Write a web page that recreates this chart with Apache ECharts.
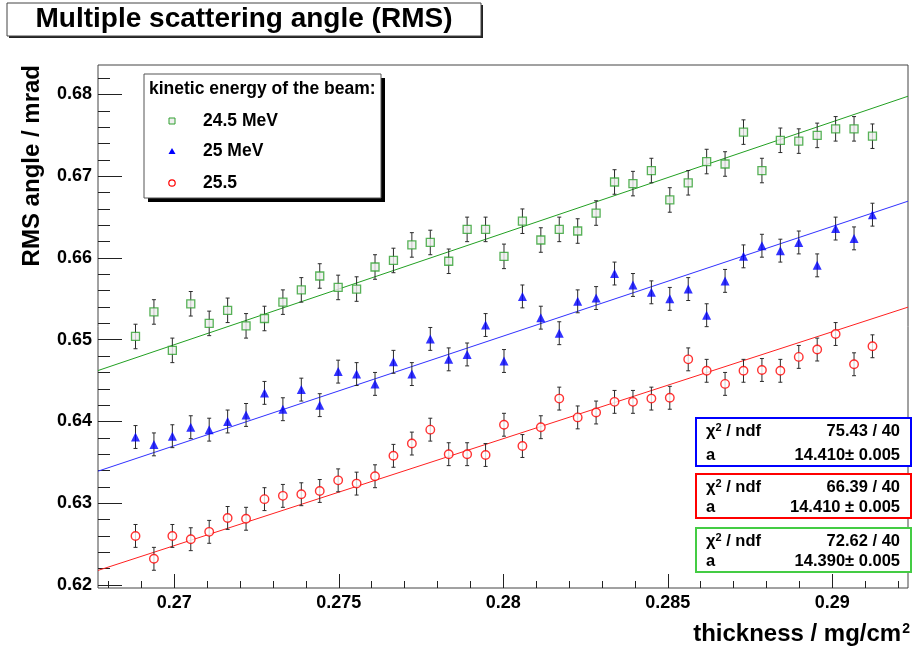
<!DOCTYPE html>
<html>
<head>
<meta charset="utf-8">
<script src="https://cdn.jsdelivr.net/npm/echarts@6/dist/echarts.min.js"></script>
<style>
  html, body { margin: 0; padding: 0; background: #fff; }
  #chart { width: 913px; height: 650px; }
</style>
</head>
<body>
<div id="chart"></div>
<script>
// thickness values (mg/cm2)
var thickness = [0.26882, 0.26938, 0.26994, 0.27050, 0.27106, 0.27162, 0.27218, 0.27274, 0.27330, 0.27386,
  0.27442, 0.27498, 0.27554, 0.27610, 0.27666, 0.27722, 0.27778, 0.27834, 0.27890, 0.27946,
  0.28002, 0.28058, 0.28114, 0.28170, 0.28226, 0.28282, 0.28338, 0.28394, 0.28450, 0.28506,
  0.28562, 0.28618, 0.28674, 0.28730, 0.28786, 0.28842, 0.28898, 0.28954, 0.29010, 0.29066, 0.29122];

// RMS angle (mrad) per beam energy
var rms245 = [0.6504, 0.6534, 0.6487, 0.6544, 0.6520, 0.6536, 0.6517, 0.6526, 0.6546, 0.6561,
  0.6578, 0.6564, 0.6562, 0.6589, 0.6597, 0.6616, 0.6619, 0.6596, 0.6635, 0.6635,
  0.6602, 0.6645, 0.6622, 0.6635, 0.6633, 0.6655, 0.6693, 0.6691, 0.6707, 0.6671,
  0.6692, 0.6718, 0.6715, 0.6754, 0.6707, 0.6744, 0.6743, 0.6750, 0.6758, 0.6758, 0.6749];
var rms250 = [0.6381, 0.6372, 0.6382, 0.6393, 0.6390, 0.6400, 0.6408, 0.6435, 0.6415, 0.6439,
  0.6420, 0.6461, 0.6458, 0.6446, 0.6473, 0.6458, 0.6501, 0.6476, 0.6482, 0.6518,
  0.6474, 0.6553, 0.6527, 0.6508, 0.6547, 0.6551, 0.6581, 0.6567, 0.6558, 0.6550,
  0.6562, 0.6530, 0.6572, 0.6602, 0.6615, 0.6609, 0.6619, 0.6591, 0.6636, 0.6624, 0.6653];
var rms255 = [0.6260, 0.6232, 0.6260, 0.6256, 0.6265, 0.6282, 0.6281, 0.6305, 0.6309, 0.6311,
  0.6315, 0.6328, 0.6324, 0.6333, 0.6358, 0.6373, 0.6390, 0.6360, 0.6360, 0.6359,
  0.6396, 0.6370, 0.6393, 0.6428, 0.6405, 0.6411, 0.6424, 0.6424, 0.6428, 0.6429,
  0.6476, 0.6462, 0.6446, 0.6462, 0.6463, 0.6462, 0.6479, 0.6488, 0.6507, 0.6470, 0.6492];
var err245 = 0.0015, err250 = 0.0014, err255 = 0.0014;

// fitted lines, end points at the frame edges
var fitX = [0.26768, 0.29230];
var fit245 = [0.64623, 0.67979];
var fit250 = [0.63392, 0.66695];
var fit255 = [0.62178, 0.65399];

var xMajor = [0.27, 0.275, 0.28, 0.285, 0.29];
var xMinor = [0.268, 0.269, 0.270, 0.271, 0.272, 0.273, 0.274, 0.275, 0.276, 0.277, 0.278, 0.279, 0.280,
  0.281, 0.282, 0.283, 0.284, 0.285, 0.286, 0.287, 0.288, 0.289, 0.290, 0.291, 0.292];
var yMajor = [0.62, 0.63, 0.64, 0.65, 0.66, 0.67, 0.68];
var yMinor = [0.620, 0.622, 0.624, 0.626, 0.628, 0.630, 0.632, 0.634, 0.636, 0.638, 0.640, 0.642, 0.644,
  0.646, 0.648, 0.650, 0.652, 0.654, 0.656, 0.658, 0.660, 0.662, 0.664, 0.666, 0.668, 0.670, 0.672,
  0.674, 0.676, 0.678, 0.680, 0.682];

var stats = [
  { chi: '75.43 / 40', a: '14.410\u00b1 0.005', color: '#0000ff', y: 418, h: 48 },
  { chi: '66.39 / 40', a: '14.410 \u00b1 0.005', color: '#ff0000', y: 474, h: 44 },
  { chi: '72.62 / 40', a: '14.390\u00b1 0.005', color: '#44cc44', y: 528, h: 44 }
];

var FONT = '"Liberation Sans", Arial, Helvetica, sans-serif';
var GREEN = '#30a030', BLUE = '#0000ff', RED = '#ff0000';

function pts(ys, errs) {
  return thickness.map(function (x, i) { return [x, ys[i], errs]; });
}
function fitLine(ys) {
  return fitX.map(function (x, i) { return [x, ys[i]]; });
}

function errBar(params, api) {
  var x = api.value(0), y = api.value(1), e = api.value(2);
  var t = api.coord([x, y + e]), b = api.coord([x, y - e]);
  var st = { stroke: '#2a2a2a', lineWidth: 1 };
  return {
    type: 'group',
    children: [
      { type: 'line', shape: { x1: t[0], y1: t[1], x2: b[0], y2: b[1] }, style: st },
      { type: 'line', shape: { x1: t[0] - 2, y1: t[1], x2: t[0] + 2, y2: t[1] }, style: st },
      { type: 'line', shape: { x1: b[0] - 2, y1: b[1], x2: b[0] + 2, y2: b[1] }, style: st }
    ]
  };
}

var chart = echarts.init(document.getElementById('chart'));

var graphics = [
  // title box
  { type: 'rect', shape: { x: 9, y: 5, width: 474, height: 33 }, style: { fill: '#222' }, z: 10 },
  { type: 'rect', shape: { x: 7, y: 3, width: 474, height: 33 }, style: { fill: '#fff', stroke: '#444', lineWidth: 1 }, z: 11 },
  { type: 'text', x: 244, y: 19, z: 12, style: { text: 'Multiple scattering angle (RMS)', fontFamily: FONT, fontWeight: 'bold', fontSize: 28, fill: '#000', align: 'center', verticalAlign: 'middle' } },
  // axis titles
  { type: 'text', x: 32, y: 65, rotation: Math.PI / 2, style: { text: 'RMS angle / mrad', fontFamily: FONT, fontWeight: 'bold', fontSize: 24, fill: '#000', align: 'right', verticalAlign: 'middle' } },
  { type: 'text', x: 910, y: 634, style: { text: '{t|thickness / mg/cm}{s|2}', align: 'right', verticalAlign: 'middle',
      rich: { t: { fontFamily: FONT, fontWeight: 'bold', fontSize: 24, fill: '#000' },
              s: { fontFamily: FONT, fontWeight: 'bold', fontSize: 14, fill: '#000', verticalAlign: 'top', padding: [0, 0, 0, 1] } } } },
  // legend box
  { type: 'rect', shape: { x: 148, y: 78, width: 237, height: 124 }, style: { fill: '#000' }, z: 10 },
  { type: 'rect', shape: { x: 144, y: 74, width: 237, height: 124 }, style: { fill: '#fff', stroke: '#555', lineWidth: 1 }, z: 11 },
  { type: 'text', x: 149, y: 89, z: 12, style: { text: 'kinetic energy of the beam:', fontFamily: FONT, fontWeight: 'bold', fontSize: 17.5, fill: '#000', verticalAlign: 'middle' } },
  { type: 'rect', shape: { x: 169, y: 118, width: 6, height: 6 }, z: 12, style: { fill: '#eee', stroke: GREEN, lineWidth: 1 } },
  { type: 'polygon', shape: { points: [[172, 148], [175.5, 154], [168.5, 154]] }, z: 12, style: { fill: BLUE } },
  { type: 'circle', shape: { cx: 172, cy: 183, r: 3.2 }, z: 12, style: { fill: '#fff', stroke: RED, lineWidth: 1.2 } },
  { type: 'text', x: 203, y: 121, z: 12, style: { text: '24.5 MeV', fontFamily: FONT, fontWeight: 'bold', fontSize: 17.5, fill: '#000', verticalAlign: 'middle' } },
  { type: 'text', x: 203, y: 151, z: 12, style: { text: '25 MeV', fontFamily: FONT, fontWeight: 'bold', fontSize: 17.5, fill: '#000', verticalAlign: 'middle' } },
  { type: 'text', x: 203, y: 183, z: 12, style: { text: '25.5', fontFamily: FONT, fontWeight: 'bold', fontSize: 17.5, fill: '#000', verticalAlign: 'middle' } }
];

stats.forEach(function (s) {
  graphics.push({ type: 'rect', shape: { x: 696, y: s.y, width: 215, height: s.h }, z: 11, style: { fill: '#fff', stroke: s.color, lineWidth: 2 } });
  var r1 = s.y + 13, r2 = s.y + s.h - 11;
  graphics.push({ type: 'text', x: 706, y: r1, z: 12, style: { text: '{t|\u03c7}{s|2}{t| / ndf}', verticalAlign: 'middle',
    rich: { t: { fontFamily: FONT, fontWeight: 'bold', fontSize: 16.5, fill: '#000' },
            s: { fontFamily: FONT, fontWeight: 'bold', fontSize: 11, fill: '#000', verticalAlign: 'top' } } } });
  graphics.push({ type: 'text', x: 900, y: r1, z: 12, style: { text: s.chi, fontFamily: FONT, fontWeight: 'bold', fontSize: 16.5, fill: '#000', align: 'right', verticalAlign: 'middle' } });
  graphics.push({ type: 'text', x: 706, y: r2, z: 12, style: { text: 'a', fontFamily: FONT, fontWeight: 'bold', fontSize: 16.5, fill: '#000', verticalAlign: 'middle' } });
  graphics.push({ type: 'text', x: 900, y: r2, z: 12, style: { text: s.a, fontFamily: FONT, fontWeight: 'bold', fontSize: 16.5, fill: '#000', align: 'right', verticalAlign: 'middle' } });
});

var option = {
  animation: false,
  backgroundColor: '#fff',
  grid: { left: 98, right: 5, top: 65, bottom: 62, show: true, borderColor: '#444', borderWidth: 1, backgroundColor: 'transparent' },
  xAxis: [
    { type: 'value', min: 0.26768, max: 0.29230, position: 'bottom',
      axisLine: { show: false }, splitLine: { show: false },
      axisTick: { inside: true, length: 14, customValues: xMajor, lineStyle: { color: '#222' } },
      axisLabel: { customValues: xMajor, margin: 6, fontFamily: FONT, fontWeight: 'bold', fontSize: 18, color: '#000' } },
    { type: 'value', min: 0.26768, max: 0.29230, position: 'bottom',
      axisLine: { show: false }, splitLine: { show: false }, axisLabel: { show: false },
      axisTick: { inside: true, length: 7, customValues: xMinor, lineStyle: { color: '#222' } } }
  ],
  yAxis: [
    { type: 'value', min: 0.61963, max: 0.68361, position: 'left',
      axisLine: { show: false }, splitLine: { show: false },
      axisTick: { inside: true, length: 24, customValues: yMajor, lineStyle: { color: '#222' } },
      axisLabel: { customValues: yMajor, margin: 6, fontFamily: FONT, fontWeight: 'bold', fontSize: 18, color: '#000' } },
    { type: 'value', min: 0.61963, max: 0.68361, position: 'left',
      axisLine: { show: false }, splitLine: { show: false }, axisLabel: { show: false },
      axisTick: { inside: true, length: 12, customValues: yMinor, lineStyle: { color: '#222' } } }
  ],
  graphic: graphics,
  series: [
    { name: 'fit 24.5', type: 'line', data: fitLine(fit245), symbol: 'none', lineStyle: { color: '#22a022', width: 1 }, z: 2 },
    { name: 'fit 25', type: 'line', data: fitLine(fit250), symbol: 'none', lineStyle: { color: '#3030ff', width: 1 }, z: 2 },
    { name: 'fit 25.5', type: 'line', data: fitLine(fit255), symbol: 'none', lineStyle: { color: '#ff2020', width: 1 }, z: 2 },
    { type: 'custom', renderItem: errBar, data: pts(rms245, err245), z: 3, encode: { x: 0, y: 1 } },
    { type: 'custom', renderItem: errBar, data: pts(rms250, err250), z: 3, encode: { x: 0, y: 1 } },
    { type: 'custom', renderItem: errBar, data: pts(rms255, err255), z: 3, encode: { x: 0, y: 1 } },
    { name: '24.5 MeV', type: 'scatter', data: pts(rms245, err245), symbol: 'rect', symbolSize: 8, z: 4,
      itemStyle: { color: '#eeeeee', borderColor: GREEN, borderWidth: 1.3 } },
    { name: '25 MeV', type: 'scatter', data: pts(rms250, err250), symbol: 'triangle', symbolSize: 9, z: 4,
      itemStyle: { color: BLUE } },
    { name: '25.5', type: 'scatter', data: pts(rms255, err255), symbol: 'circle', symbolSize: 8.5, z: 4,
      itemStyle: { color: '#fff', borderColor: RED, borderWidth: 1.4 } }
  ]
};

chart.setOption(option);
</script>
</body>
</html>
